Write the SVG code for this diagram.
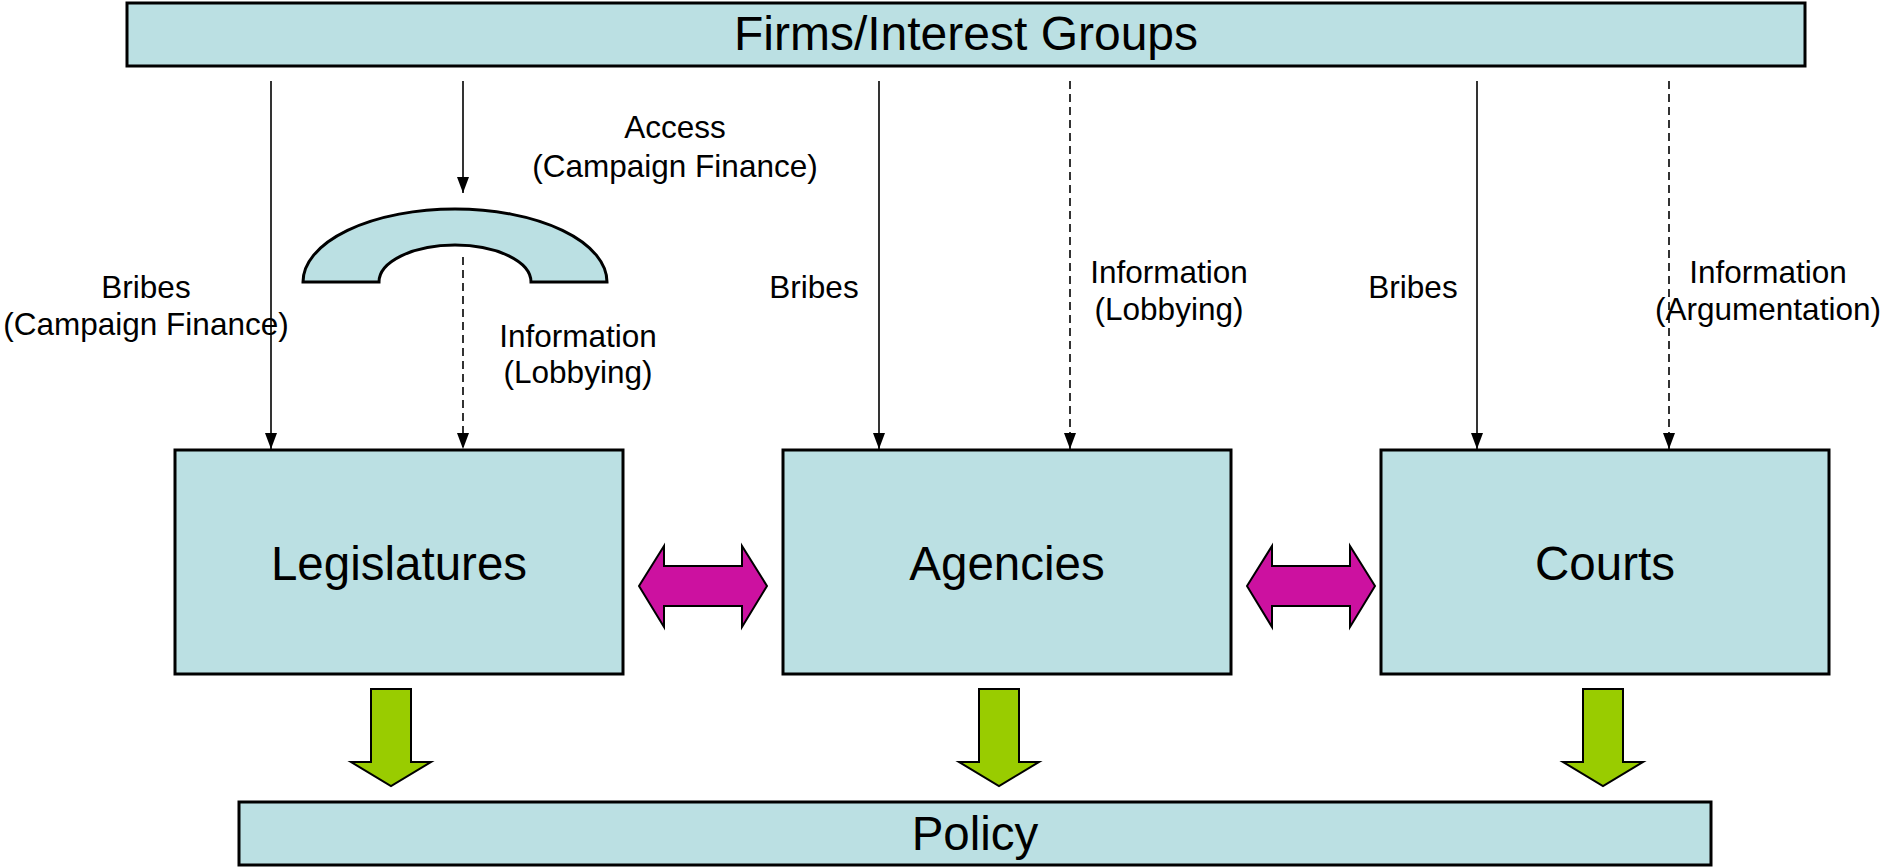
<svg xmlns="http://www.w3.org/2000/svg" width="1883" height="867" viewBox="0 0 1883 867">
  <style>
    .box { fill: #BBE0E3; stroke: #000; stroke-width: 3; }
    .title { font-family: "Liberation Sans", Arial, sans-serif; font-size: 47.5px; fill: #000; text-anchor: middle; }
    .head { font-size: 48px; }
    .lbl { font-family: "Liberation Sans", Arial, sans-serif; font-size: 31.5px; fill: #000; text-anchor: middle; }
    .flow { stroke: #000; stroke-width: 1.6; fill: none; marker-end: url(#tip); }
    .dash { stroke-dasharray: 8 5; }
    .swap { fill: #CC11A0; stroke: #000; stroke-width: 2; }
    .out { fill: #99CC00; stroke: #000; stroke-width: 2; }
  </style>
  <defs>
    <marker id="tip" viewBox="0 0 16 12" refX="16" refY="6" markerWidth="16" markerHeight="12" markerUnits="userSpaceOnUse" orient="auto">
      <path d="M0,0 L16,6 L0,12 Z" fill="#000"/>
    </marker>
  </defs>
  <rect width="1883" height="867" fill="#fff"/>

  <!-- top source -->
  <g id="firms">
    <rect class="box" x="127" y="3" width="1678" height="63"/>
    <text class="title head" x="966" y="50">Firms/Interest Groups</text>
  </g>

  <!-- access gate (block arc) -->
  <g id="access-gate">
    <path class="box" stroke-width="2" d="M303,282 A152,73 0 0 1 607,282 L531,282 A76,37 0 0 0 379,282 Z"/>
  </g>

  <!-- institutions -->
  <g id="legislatures">
    <rect class="box" x="175" y="450" width="448" height="224"/>
    <text class="title" x="399" y="580">Legislatures</text>
  </g>
  <g id="agencies">
    <rect class="box" x="783" y="450" width="448" height="224"/>
    <text class="title" x="1007" y="580">Agencies</text>
  </g>
  <g id="courts">
    <rect class="box" x="1381" y="450" width="448" height="224"/>
    <text class="title" x="1605" y="580">Courts</text>
  </g>

  <!-- outcome -->
  <g id="policy">
    <rect class="box" x="239" y="802" width="1472" height="63"/>
    <text class="title" x="975" y="850">Policy</text>
  </g>

  <!-- connectors -->
  <g id="connectors">
    <line class="flow" x1="271" y1="81" x2="271" y2="449"/>
    <line class="flow" x1="463" y1="81" x2="463" y2="193"/>
    <line class="flow dash" x1="463" y1="257" x2="463" y2="449"/>
    <line class="flow" x1="879" y1="81" x2="879" y2="449"/>
    <line class="flow dash" x1="1070" y1="81" x2="1070" y2="449"/>
    <line class="flow" x1="1477" y1="81" x2="1477" y2="449"/>
    <line class="flow dash" x1="1669" y1="81" x2="1669" y2="449"/>

    <path class="swap" d="M639,586 L664,546 V566 H742 V546 L767,586 L742,627 V606 H664 V627 Z"/>
    <path class="swap" d="M1247,586 L1272,546 V566 H1350 V546 L1375,586 L1350,627 V606 H1272 V627 Z"/>

    <path class="out" d="M371,689 H411 V762 H431 L391,786 L351,762 H371 Z"/>
    <path class="out" d="M979,689 H1019 V762 H1039 L999,786 L959,762 H979 Z"/>
    <path class="out" d="M1583,689 H1623 V762 H1643 L1603,786 L1563,762 H1583 Z"/>
  </g>

  <!-- connector labels -->
  <g id="labels">
    <text class="lbl" x="675" y="138">Access</text>
    <text class="lbl" x="675" y="177">(Campaign Finance)</text>
    <text class="lbl" x="146" y="298">Bribes</text>
    <text class="lbl" x="146" y="335">(Campaign Finance)</text>
    <text class="lbl" x="578" y="347">Information</text>
    <text class="lbl" x="578" y="383">(Lobbying)</text>
    <text class="lbl" x="814" y="298">Bribes</text>
    <text class="lbl" x="1169" y="283">Information</text>
    <text class="lbl" x="1169" y="320">(Lobbying)</text>
    <text class="lbl" x="1413" y="298">Bribes</text>
    <text class="lbl" x="1768" y="283">Information</text>
    <text class="lbl" x="1768" y="320">(Argumentation)</text>
  </g>
</svg>
